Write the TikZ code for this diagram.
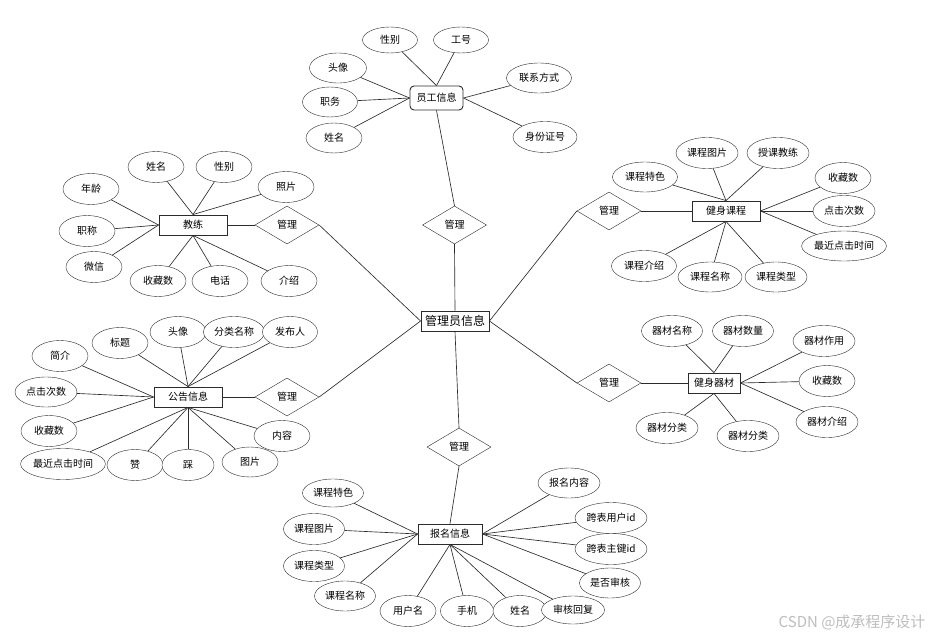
\documentclass[tikz,border=0pt]{standalone}
\usepackage{fontspec}
\setmainfont{Noto Sans CJK SC}
\usetikzlibrary{shapes.geometric}
\definecolor{ink}{HTML}{2B2B2B}
\definecolor{mark}{HTML}{BDBDBD}

\tikzset{
  attr/.style={draw=ink,ellipse,fill=white,inner sep=0pt,minimum width=56,minimum height=31,font=\fontsize{10}{12}\selectfont},
  ent/.style={draw=ink,line width=0.9pt,fill=white,inner sep=0pt,minimum width=68,minimum height=20,font=\fontsize{10}{12}\selectfont},
  rel/.style={draw=ink,diamond,fill=white,inner sep=0pt,minimum width=64,minimum height=38,font=\fontsize{10}{12}\selectfont},
  link/.style={draw=ink,line width=0.65pt}
}

\begin{document}
\begin{tikzpicture}[x=1pt,y=-1pt]
    \useasboundingbox (0,0) rectangle (934,639);
    % central entity and relations
    \node[ent,font=\fontsize{12}{14}\selectfont] (admin) at (455,321) {管理员信息};
    \node[rel] (remp) at (454.5,225) {管理};
    \node[rel] (rsign) at (459,447) {管理};
    \node[rel] (rcoach) at (287,225) {管理};
    \node[rel] (rnotice) at (287,397) {管理};
    \node[rel] (rcourse) at (609,211) {管理};
    \node[rel] (requip) at (609,383) {管理};

    % 员工信息
    \node[ent,rounded corners=4pt,minimum width=53,minimum height=24] (emp) at (436.5,98) {员工信息};
    \node[attr,minimum width=55,minimum height=26] (e1) at (390,40) {性别};
    \node[attr,minimum width=55,minimum height=26] (e2) at (461,40) {工号};
    \node[attr,minimum width=57,minimum height=30] (e3) at (338,68) {头像};
    \node[attr,minimum width=55,minimum height=30] (e4) at (330,102) {职务};
    \node[attr,minimum height=30] (e5) at (334,138) {姓名};
    \node[attr,minimum width=65,minimum height=30] (e6) at (539,78) {联系方式};
    \node[attr,minimum width=64] (e7) at (545,137) {身份证号};

    % 教练
    \node[ent] (coach) at (193,225) {教练};
    \node[attr] (c1) at (156,167) {姓名};
    \node[attr] (c2) at (224,167) {性别};
    \node[attr] (c3) at (286,187) {照片};
    \node[attr] (c4) at (91,189) {年龄};
    \node[attr] (c5) at (87,231) {职称};
    \node[attr] (c6) at (94,267) {微信};
    \node[attr] (c7) at (158,281) {收藏数};
    \node[attr] (c8) at (220,281) {电话};
    \node[attr] (c9) at (289,281) {介绍};

    % 健身课程
    \node[ent] (course) at (726,211) {健身课程};
    \node[attr,minimum width=65,minimum height=30] (k1) at (645,177) {课程特色};
    \node[attr,minimum width=62] (k2) at (707,153) {课程图片};
    \node[attr,minimum width=62] (k3) at (778,153) {授课教练};
    \node[attr] (k4) at (843,178) {收藏数};
    \node[attr,minimum width=62] (k5) at (844,211) {点击次数};
    \node[attr,minimum width=82,minimum height=30] (k6) at (844,246) {最近点击时间};
    \node[attr,minimum width=65] (k7) at (644,266) {课程介绍};
    \node[attr,minimum width=64,minimum height=30] (k8) at (710,277) {课程名称};
    \node[attr,minimum width=62,minimum height=30] (k9) at (776,277) {课程类型};

    % 公告信息
    \node[ent] (notice) at (188,397) {公告信息};
    \node[attr] (n1) at (60,356) {简介};
    \node[attr] (n2) at (120,343) {标题};
    \node[attr] (n3) at (178,332) {头像};
    \node[attr,minimum width=61] (n4) at (234,332) {分类名称};
    \node[attr,minimum width=55] (n5) at (290,332) {发布人};
    \node[attr,minimum width=62,minimum height=30] (n6) at (46,392) {点击次数};
    \node[attr] (n7) at (49,431) {收藏数};
    \node[attr,minimum width=83] (n8) at (63,464) {最近点击时间};
    \node[attr] (n9) at (135,465) {赞};
    \node[attr,minimum width=52] (n10) at (188,465) {踩};
    \node[attr,minimum height=30] (n11) at (250,462) {图片};
    \node[attr] (n12) at (282,436) {内容};

    % 健身器材
    \node[ent,minimum width=52] (equip) at (714,383) {健身器材};
    \node[attr,minimum width=61] (q1) at (672,331) {器材名称};
    \node[attr,minimum width=61] (q2) at (743,331) {器材数量};
    \node[attr,minimum width=62] (q3) at (824,341) {器材作用};
    \node[attr] (q4) at (827,381) {收藏数};
    \node[attr,minimum width=62] (q5) at (827,422) {器材介绍};
    \node[attr,minimum width=62] (q6) at (667,428) {器材分类};
    \node[attr,minimum width=62] (q7) at (748,436) {器材分类};

    % 报名信息
    \node[ent,minimum width=64] (sign) at (450,534) {报名信息};
    \node[attr,minimum width=61,minimum height=28] (s1) at (333,493) {课程特色};
    \node[attr,minimum width=61] (s2) at (314,529) {课程图片};
    \node[attr,minimum width=61] (s3) at (314,566) {课程类型};
    \node[attr,minimum width=61,minimum height=30] (s4) at (345,596) {课程名称};
    \node[attr] (s5) at (408,611) {用户名};
    \node[attr,minimum width=53] (s6) at (467,611) {手机};
    \node[attr,minimum width=54] (s7) at (520,611) {姓名};
    \node[attr,minimum width=63,minimum height=28] (s8) at (573,610) {审核回复};
    \node[attr,minimum width=62,minimum height=30] (s9) at (569,483) {报名内容};
    \node[attr,minimum width=72] (s10) at (611,518) {跨表用户id};
    \node[attr,minimum width=72] (s11) at (611,549) {跨表主键id};
    \node[attr,minimum width=61,minimum height=30] (s12) at (610,583) {是否审核};

    % relation links
    \draw[link] (emp.south) -- (remp.north);
    \draw[link] (remp.south) -- (admin.north);
    \draw[link] (admin.south) -- (rsign.north);
    \draw[link] (rsign.south) -- (sign.north);
    \draw[link] (coach.east) -- (rcoach.west);
    \draw[link] (rcoach.east) -- (admin.west);
    \draw[link] (notice.east) -- (rnotice.west);
    \draw[link] (rnotice.east) -- (admin.west);
    \draw[link] (course.west) -- (rcourse.east);
    \draw[link] (rcourse.west) -- (admin.east);
    \draw[link] (equip.west) -- (requip.east);
    \draw[link] (requip.west) -- (admin.east);

    % attribute links
    \foreach \a in {e1,e2} \draw[link] (emp.north) -- (\a);
    \foreach \a in {e3,e4,e5} \draw[link] (emp.west) -- (\a);
    \foreach \a in {e6,e7} \draw[link] (emp.east) -- (\a);
    \foreach \a in {c1,c2,c3} \draw[link] (coach.north) -- (\a);
    \foreach \a in {c4,c5,c6} \draw[link] (coach.west) -- (\a);
    \foreach \a in {c7,c8,c9} \draw[link] (coach.south) -- (\a);
    \foreach \a in {k1,k2,k3} \draw[link] (course.north) -- (\a);
    \foreach \a in {k4,k5,k6} \draw[link] (course.east) -- (\a);
    \foreach \a in {k7,k8,k9} \draw[link] (course.south) -- (\a);
    \foreach \a in {n2,n3,n4,n5} \draw[link] (notice.north) -- (\a);
    \foreach \a in {n1,n6,n7} \draw[link] (notice.west) -- (\a);
    \foreach \a in {n8,n9,n10,n11,n12} \draw[link] (notice.south) -- (\a);
    \foreach \a in {q1,q2} \draw[link] (equip.north) -- (\a);
    \foreach \a in {q3,q4,q5} \draw[link] (equip.east) -- (\a);
    \foreach \a in {q6,q7} \draw[link] (equip.south) -- (\a);
    \foreach \a in {s1,s2,s3,s4} \draw[link] (sign.west) -- (\a);
    \foreach \a in {s5,s6,s7,s8} \draw[link] (sign.south) -- (\a);
    \foreach \a in {s9,s10,s11,s12} \draw[link] (sign.east) -- (\a);

    \node[text=mark,font=\fontsize{15}{17}\selectfont,anchor=east] (wm) at (929,622) {CSDN @成承程序设计};
  \end{tikzpicture}
\end{document}
